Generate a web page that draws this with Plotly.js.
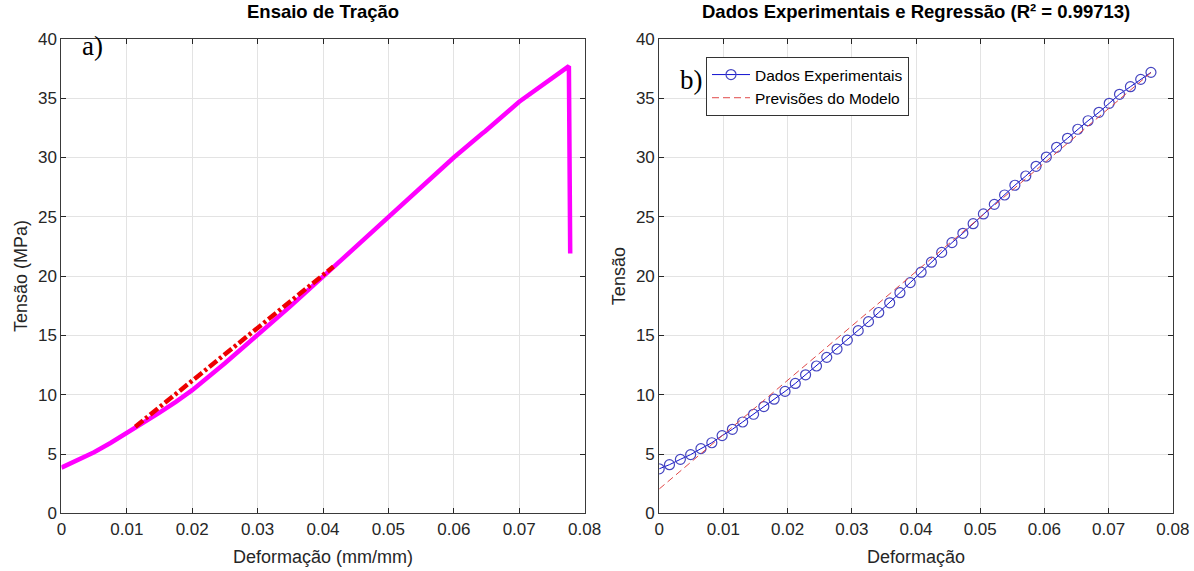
<!DOCTYPE html>
<html>
<head>
<meta charset="utf-8">
<script src="https://cdn.plot.ly/plotly-3.0.1.min.js"></script>
<style>html,body{margin:0;padding:0;background:#fff;}#chart{width:1194px;height:571px;}</style>
</head>
<body>
<div id="chart"></div>
<script>
// ---- Panel a) tensile test curve ----
const strainA = [0.0000, 0.0025, 0.0050, 0.0075, 0.0100, 0.0125, 0.0150, 0.0175, 0.0200, 0.0250, 0.0300, 0.0350, 0.0400, 0.0450, 0.0500, 0.0550, 0.0600, 0.0643, 0.0648, 0.0700, 0.0750, 0.0776, 0.0778];
const stressA = [3.85, 4.45, 5.15, 5.93, 6.75, 7.60, 8.48, 9.40, 10.38, 12.65, 15.00, 17.45, 19.95, 22.45, 25.00, 27.50, 30.00, 32.00, 32.22, 34.70, 36.75, 37.70, 21.90];
const fitStrainA = [0.0113, 0.0416];
const fitStressA = [7.3, 20.8];

// ---- Panel b) experimental data and regression ----
const strainB = [0.0000, 0.0016, 0.0033, 0.0049, 0.0065, 0.0082, 0.0098, 0.0114, 0.0130, 0.0147,
                 0.0163, 0.0179, 0.0196, 0.0212, 0.0228, 0.0245, 0.0261, 0.0277, 0.0293, 0.0310,
                 0.0326, 0.0342, 0.0359, 0.0375, 0.0391, 0.0408, 0.0424, 0.0440, 0.0456, 0.0473,
                 0.0489, 0.0505, 0.0522, 0.0538, 0.0554, 0.0571, 0.0587, 0.0603, 0.0619, 0.0636,
                 0.0652, 0.0668, 0.0685, 0.0701, 0.0717, 0.0734, 0.0750, 0.0766];
const stressB = [3.75, 4.10, 4.55, 4.95, 5.45, 5.95, 6.55, 7.08, 7.70, 8.35,
                 9.00, 9.62, 10.28, 10.95, 11.68, 12.42, 13.15, 13.85, 14.60, 15.40,
                 16.16, 16.93, 17.75, 18.60, 19.45, 20.33, 21.17, 22.00, 22.82, 23.61,
                 24.42, 25.24, 26.05, 26.84, 27.66, 28.44, 29.26, 30.04, 30.86, 31.62,
                 32.38, 33.10, 33.81, 34.57, 35.33, 35.97, 36.59, 37.18];
const modelStrainB = [0.0000, 0.0766];
const modelStressB = [2.05, 37.15];

// ---- ticks and labels ----
const xTickVals = [0, 0.01, 0.02, 0.03, 0.04, 0.05, 0.06, 0.07, 0.08];
const xTickText = ['0', '0.01', '0.02', '0.03', '0.04', '0.05', '0.06', '0.07', '0.08'];
const yTickVals = [0, 5, 10, 15, 20, 25, 30, 35, 40];
const yTickText = ['0', '5', '10', '15', '20', '25', '30', '35', '40'];

const titleA = 'Ensaio de Tração';
const titleB = 'Dados Experimentais e Regressão (R² = 0.99713)';
const xLabelA = 'Deformação (mm/mm)';
const xLabelB = 'Deformação';
const yLabelA = 'Tensão (MPa)';
const yLabelB = 'Tensão';
const legendNames = ['Dados Experimentais', 'Previsões do Modelo'];

const SANS = '"Liberation Sans", Arial, sans-serif';
const W = 1194, H = 571;
const plotTop = 38.9, plotBot = 513.3;
const ax1 = [61.4, 584.6], ax2 = [659.2, 1172.8];

const traces = [
  {x: strainA, y: stressA, xaxis: 'x', yaxis: 'y', mode: 'lines', showlegend: false,
   line: {color: '#ff00ff', width: 4.5}, hoverinfo: 'skip'},
  {x: fitStrainA, y: fitStressA, xaxis: 'x', yaxis: 'y', mode: 'lines', showlegend: false,
   line: {color: '#ee0000', width: 4.5, dash: '10px,3px,3px,3px'}},
  {x: strainB, y: stressB, xaxis: 'x2', yaxis: 'y2', mode: 'lines+markers', name: legendNames[0],
   line: {color: '#1010d0', width: 1},
   marker: {symbol: 'circle-open', size: 10, color: '#4545c0', line: {width: 1.2}}},
  {x: modelStrainB, y: modelStressB, xaxis: 'x2', yaxis: 'y2', mode: 'lines', name: legendNames[1],
   line: {color: '#e04848', width: 1, dash: '7px,4px'}}
];

function xAxis(dom, title, anchor) {
  return {
    domain: [dom[0] / W, dom[1] / W], anchor: anchor, range: [0, 0.08],
    tickvals: xTickVals, ticktext: xTickText, ticks: 'inside', ticklen: 5, tickcolor: '#262626',
    showline: true, linecolor: '#3a3a3a', linewidth: 1, mirror: 'ticks',
    showgrid: true, gridcolor: '#e3e3e3', gridwidth: 1, zeroline: false,
    tickfont: {family: SANS, size: 17, color: '#262626'},
    title: {text: title, font: {family: SANS, size: 18, color: '#262626'}, standoff: 12},
    automargin: false, fixedrange: true
  };
}
function yAxis(title, anchor) {
  return {
    domain: [1 - plotBot / H, 1 - plotTop / H], anchor: anchor, range: [0, 40],
    tickvals: yTickVals, ticktext: yTickText, ticks: 'inside', ticklen: 5, tickcolor: '#262626',
    showline: true, linecolor: '#3a3a3a', linewidth: 1, mirror: 'ticks',
    showgrid: true, gridcolor: '#e3e3e3', gridwidth: 1, zeroline: false,
    tickfont: {family: SANS, size: 17, color: '#262626'},
    title: {text: title, font: {family: SANS, size: 18, color: '#262626'}, standoff: 5},
    automargin: false, fixedrange: true
  };
}

const layout = {
  width: W, height: H, margin: {l: 0, r: 0, t: 0, b: 0},
  paper_bgcolor: '#ffffff', plot_bgcolor: '#ffffff',
  xaxis: xAxis(ax1, xLabelA, 'y'),
  yaxis: yAxis(yLabelA, 'x'),
  xaxis2: xAxis(ax2, xLabelB, 'y2'),
  yaxis2: yAxis(yLabelB, 'x2'),
  showlegend: true,
  legend: {
    x: 706 / W, y: 1 - 57 / H, xanchor: 'left', yanchor: 'top',
    bgcolor: '#ffffff', bordercolor: '#333', borderwidth: 1,
    font: {family: SANS, size: 15.5, color: '#000'},
    tracegroupgap: 0, itemwidth: 38
  },
  annotations: [
    {text: '<b>' + titleA + '</b>', xref: 'paper', yref: 'paper', x: (ax1[0] + ax1[1]) / 2 / W, y: 1 - 12 / H,
     xanchor: 'center', yanchor: 'middle', showarrow: false, font: {family: SANS, size: 18.5, color: '#000'}},
    {text: '<b>' + titleB + '</b>', xref: 'paper', yref: 'paper', x: (ax2[0] + ax2[1]) / 2 / W, y: 1 - 12 / H,
     xanchor: 'center', yanchor: 'middle', showarrow: false, font: {family: SANS, size: 18.5, color: '#000'}},
    {text: 'a)', xref: 'paper', yref: 'paper', x: 80 / W, y: 1 - 46 / H, xanchor: 'left', yanchor: 'middle',
     showarrow: false, font: {family: '"Liberation Serif", "Times New Roman", serif', size: 27, color: '#000'}},
    {text: 'b)', xref: 'paper', yref: 'paper', x: 678 / W, y: 1 - 80 / H, xanchor: 'left', yanchor: 'middle',
     showarrow: false, font: {family: '"Liberation Serif", "Times New Roman", serif', size: 27, color: '#000'}}
  ]
};

Plotly.newPlot('chart', traces, layout, {displayModeBar: false, staticPlot: true});
</script>
</body>
</html>
